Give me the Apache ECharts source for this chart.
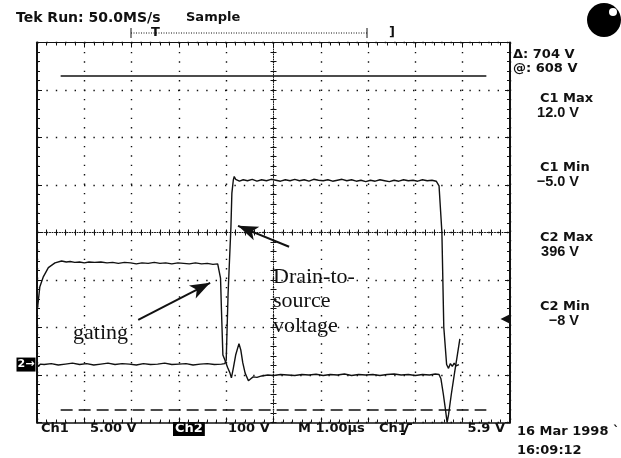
<!DOCTYPE html>
<html>
<head>
<meta charset="utf-8">
<script src="https://cdn.jsdelivr.net/npm/echarts@6/dist/echarts.min.js"></script>
<style>
  html, body { margin: 0; padding: 0; background: #fff; }
  #scope { width: 621px; height: 458px; }
</style>
</head>
<body>
<div id="scope"></div>
<script>
// Screen: 10 x 8 divisions, time base 1 µs/div
const TIME_DIVS = 10;
const VERT_DIVS = 8;
const CH1_VOLTS_PER_DIV = 5;     // gate drive
const CH1_GROUND_DIV = -3;
const CH2_VOLTS_PER_DIV = 100;   // drain-to-source
const CH2_GROUND_DIV = -2.78;
const TRIGGER_LEVEL = 5.9;       // Ch1 rising edge
const cursorAt = 608;            // H-bar cursors on Ch2
const cursorDelta = 704;
const cursorSpan = [0.5, 9.5];

// Ch1 gate voltage [µs, V]
const gatingTrace = [
  [0.01, 7.0], [0.03, 7.9], [0.06, 9.3], [0.13, 10.3], [0.24, 11.3], [0.38, 11.8], [0.52, 12.0],
  [0.62, 11.9], [0.70, 11.95], [0.80, 11.85], [0.90, 11.9], [1.00, 11.8], [1.10, 11.9], [1.22, 11.85],
  [1.35, 11.9], [1.48, 11.8], [1.60, 11.85], [1.72, 11.75], [1.85, 11.85], [1.98, 11.8], [2.10, 11.7],
  [2.22, 11.8], [2.35, 11.75], [2.48, 11.85], [2.60, 11.75], [2.72, 11.8], [2.85, 11.7], [2.98, 11.8],
  [3.10, 11.75], [3.22, 11.7], [3.35, 11.8], [3.48, 11.7], [3.60, 11.75], [3.72, 11.65], [3.82, 11.7],
  [3.86, 11.6], [3.88, 10.2], [3.90, 6.8], [3.93, 2.1], [3.97, 1.6], [4.03, 0.8], [4.08, 0.2],
  [4.11, -0.3], [4.15, 0.7], [4.20, 2.1], [4.27, 3.3], [4.31, 2.6], [4.35, 1.3], [4.40, 0.2],
  [4.47, -0.6], [4.52, -0.4], [4.57, -0.2], [4.65, -0.25], [4.75, -0.1], [4.88, 0.0], [5.00, -0.05],
  [5.15, 0.05], [5.30, 0.0], [5.45, -0.05], [5.60, 0.05], [5.75, 0.0], [5.90, 0.08], [6.05, -0.05],
  [6.20, 0.05], [6.35, 0.0], [6.50, 0.1], [6.65, -0.05], [6.80, 0.05], [6.95, 0.0], [7.10, 0.05],
  [7.25, -0.05], [7.40, 0.05], [7.55, 0.1], [7.70, 0.0], [7.85, 0.05], [8.00, -0.05], [8.15, 0.05],
  [8.30, 0.0], [8.42, 0.1], [8.50, 0.05], [8.54, -0.4], [8.59, -2.0], [8.64, -3.8], [8.67, -5.0],
  [8.70, -4.2], [8.76, -2.0], [8.83, 0.3], [8.89, 2.2], [8.94, 3.8]
];

// Ch2 drain-to-source voltage [µs, V]
const drainTrace = [
  [0.00, 2], [0.03, -4], [0.07, 1], [0.15, 0], [0.30, 2], [0.45, -1], [0.60, 1], [0.75, 3],
  [0.90, 0], [1.05, 2], [1.20, -1], [1.35, 1], [1.50, 3], [1.65, 0], [1.80, 2], [1.95, 1],
  [2.10, -1], [2.25, 2], [2.40, 0], [2.55, 1], [2.70, 3], [2.85, 0], [3.00, 1], [3.15, 2],
  [3.30, -1], [3.45, 1], [3.60, 2], [3.75, 0], [3.90, 1], [3.97, 2],
  [4.00, 9], [4.04, 150], [4.10, 290], [4.12, 361], [4.15, 388], [4.17, 396], [4.20, 390],
  [4.28, 386], [4.36, 389], [4.45, 387], [4.55, 390], [4.65, 386], [4.75, 389], [4.85, 387],
  [4.95, 390], [5.05, 388], [5.15, 386], [5.25, 389], [5.35, 387], [5.45, 390], [5.55, 387],
  [5.65, 389], [5.75, 386], [5.85, 390], [5.95, 388], [6.05, 387], [6.15, 389], [6.25, 386],
  [6.35, 388], [6.45, 390], [6.55, 387], [6.65, 389], [6.75, 386], [6.85, 388], [6.95, 385],
  [7.05, 388], [7.15, 386], [7.25, 389], [7.35, 387], [7.45, 385], [7.55, 388], [7.65, 386],
  [7.75, 389], [7.85, 387], [7.95, 388], [8.05, 386], [8.15, 389], [8.25, 387], [8.35, 388],
  [8.44, 386], [8.48, 382], [8.50, 376], [8.56, 279], [8.60, 79], [8.66, 0], [8.70, -8],
  [8.74, 2], [8.78, -4], [8.82, 3], [8.86, -3], [8.90, 1], [8.92, 0]
];

// Annotation arrows [µs, V] tail -> head
const gatingArrow = [[2.14, 5.8], [3.66, 9.7]];
const drainArrow = [[5.33, 248], [4.25, 292]];

const measureNames = ['C1 Max', 'C1 Min', 'C2 Max', 'C2 Min'];
const measureValues = ['12.0 V', '\u22125.0 V', '396 V', '\u22128 V'];
const headerText = ['Tek', 'Run: 50.0MS/s', 'Sample'];
const channelSettings = ['Ch1', '5.00 V', 'Ch2', '100 V', 'M 1.00\u00b5s', 'Ch1', '5.9 V'];
const timestamp = ['16 Mar 1998 `', '16:09:12'];

const TEK = '"DejaVu Sans", sans-serif';
const TEK_NARROW = '"Liberation Sans", Arial, sans-serif';
const SERIF = '"Liberation Serif", "Times New Roman", serif';
const INK = '#111';

const chart = echarts.init(document.getElementById('scope'), null, { renderer: 'canvas' });

const dotGrid = { show: true, lineStyle: { color: INK, width: 1.4, type: [1.4, 8] } };
const frameTick = { show: true, inside: true, length: 5, lineStyle: { color: INK, width: 1 } };
const frameMinor = { show: true, splitNumber: 5, length: 3, lineStyle: { color: INK, width: 1 } };
const noLabel = { show: false };

function timeAxis(extra) {
  return Object.assign({
    type: 'value', min: 0, max: TIME_DIVS, interval: 1,
    axisLabel: noLabel, splitLine: { show: false }
  }, extra);
}
function divAxis(extra) {
  return Object.assign({
    type: 'value', min: -VERT_DIVS / 2, max: VERT_DIVS / 2, interval: 1,
    axisLabel: noLabel, splitLine: { show: false }
  }, extra);
}

const text = (x, y, str, opt) => ({
  type: 'text', x, y, silent: true,
  style: Object.assign({
    text: str, fill: INK, fontFamily: TEK, fontSize: 13, fontWeight: 'bold',
    align: 'left', textAlign: 'left', verticalAlign: 'middle', textVerticalAlign: 'middle'
  }, opt || {})
});

const graphics = [
  // header
  text(16, 18, headerText[0] + ' ' + headerText[1], { fontSize: 14 }),
  text(186, 18, headerText[2]),
  // record view bar
  { type: 'line', silent: true, shape: { x1: 131, y1: 33, x2: 367, y2: 33 }, style: { stroke: INK, lineWidth: 1, lineDash: [1, 1.5] } },
  { type: 'line', silent: true, shape: { x1: 131, y1: 28, x2: 131, y2: 38 }, style: { stroke: INK, lineWidth: 1 } },
  { type: 'line', silent: true, shape: { x1: 367, y1: 28, x2: 367, y2: 38 }, style: { stroke: INK, lineWidth: 1 } },
  text(151, 33, 'T', { fontSize: 13 }),
  text(389, 33, ']', { fontSize: 13 }),
  // acquisition indicator
  { type: 'circle', silent: true, shape: { cx: 604, cy: 20, r: 17 }, style: { fill: '#000' } },
  { type: 'circle', silent: true, shape: { cx: 613, cy: 12, r: 4 }, style: { fill: '#fff' } },
  // cursor readout
  text(513, 55, '\u0394: ' + cursorDelta + ' V'),
  text(513, 69, '@: ' + cursorAt + ' V'),
  // bottom status line
  text(41, 429, channelSettings[0]),
  text(90, 429, channelSettings[1]),
  text(173, 429, channelSettings[2], { fill: '#fff', backgroundColor: '#000', padding: [1, 2, 0, 2] }),
  text(228, 429, channelSettings[3]),
  text(298, 429, channelSettings[4]),
  text(379, 429, channelSettings[5]),
  { type: 'polyline', silent: true, shape: { points: [[401, 434], [404, 434], [408, 424], [412, 424]] }, style: { stroke: INK, lineWidth: 2, fill: null } },
  text(505, 429, channelSettings[6], { align: 'right', textAlign: 'right' }),
  text(517, 432, timestamp[0]),
  text(517, 451, timestamp[1]),
  // annotations
  text(73, 333, 'gating', { fontFamily: SERIF, fontWeight: 'normal', fontSize: 22 }),
  text(273, 277, 'Drain-to-', { fontFamily: SERIF, fontWeight: 'normal', fontSize: 22 }),
  text(273, 301, 'source', { fontFamily: SERIF, fontWeight: 'normal', fontSize: 22 }),
  text(273, 326, 'voltage', { fontFamily: SERIF, fontWeight: 'normal', fontSize: 22 })
];

// measurement block
const measureY = [99, 168, 238, 307];
measureNames.forEach((name, i) => {
  graphics.push(text(540, measureY[i], name));
  graphics.push(text(579, measureY[i] + 14, measureValues[i],
    { fontFamily: TEK_NARROW, fontSize: 14.5, align: 'right', textAlign: 'right' }));
});

const arrowLine = (pts) => [
  { coord: pts[0], symbol: 'none', lineStyle: { color: INK, width: 2, type: 'solid' } },
  { coord: pts[1], symbol: 'arrow', symbolSize: [11, 20], lineStyle: { color: INK, width: 2, type: 'solid' } }
];

const option = {
  animation: false,
  backgroundColor: '#fff',
  grid: { left: 37, right: 111, top: 42.5, bottom: 35.5, containLabel: false },
  xAxis: [
    // frame bottom (also vertical dotted graticule)
    timeAxis({ position: 'bottom', axisLine: { show: true, onZero: false, lineStyle: { color: INK, width: 1.5 } },
      axisTick: frameTick, minorTick: frameMinor, splitLine: dotGrid }),
    // frame top
    timeAxis({ position: 'top', axisLine: { show: true, onZero: false, lineStyle: { color: INK, width: 1 } },
      axisTick: frameTick, minorTick: frameMinor }),
    // centred division scale used to anchor the vertical centre line
    { type: 'value', min: -TIME_DIVS / 2, max: TIME_DIVS / 2, show: false },
    // horizontal centre line, ticks up
    timeAxis({ position: 'bottom', axisLine: { show: true, onZero: true, onZeroAxisIndex: 0, lineStyle: { color: INK, width: 1, type: [1, 1.5] } },
      axisTick: { show: true, inside: true, length: 3, lineStyle: { color: INK } }, minorTick: frameMinor }),
    // horizontal centre line, ticks down
    timeAxis({ position: 'bottom', axisLine: { show: false, onZero: true, onZeroAxisIndex: 0 },
      axisTick: { show: true, inside: false, length: 3, lineStyle: { color: INK } }, minorTick: frameMinor })
  ],
  yAxis: [
    // frame left (also horizontal dotted graticule)
    divAxis({ position: 'left', axisLine: { show: true, onZero: false, lineStyle: { color: INK, width: 2 } },
      axisTick: frameTick, minorTick: frameMinor, splitLine: dotGrid }),
    // frame right
    divAxis({ position: 'right', axisLine: { show: true, onZero: false, lineStyle: { color: INK, width: 2 } },
      axisTick: frameTick, minorTick: frameMinor }),
    // vertical centre line, ticks right
    divAxis({ position: 'left', axisLine: { show: true, onZero: true, onZeroAxisIndex: 2, lineStyle: { color: INK, width: 1, type: [1, 1.5] } },
      axisTick: { show: true, inside: true, length: 3, lineStyle: { color: INK } }, minorTick: frameMinor }),
    // vertical centre line, ticks left
    divAxis({ position: 'left', axisLine: { show: false, onZero: true, onZeroAxisIndex: 2 },
      axisTick: { show: true, inside: false, length: 3, lineStyle: { color: INK } }, minorTick: frameMinor }),
    // Ch1 volts
    { type: 'value', show: false, axisLine: { onZero: false },
      min: (-VERT_DIVS / 2 - CH1_GROUND_DIV) * CH1_VOLTS_PER_DIV, max: (VERT_DIVS / 2 - CH1_GROUND_DIV) * CH1_VOLTS_PER_DIV },
    // Ch2 volts
    { type: 'value', show: false, axisLine: { onZero: false },
      min: (-VERT_DIVS / 2 - CH2_GROUND_DIV) * CH2_VOLTS_PER_DIV, max: (VERT_DIVS / 2 - CH2_GROUND_DIV) * CH2_VOLTS_PER_DIV }
  ],
  graphic: graphics,
  series: [
    {
      name: 'gating', type: 'line', xAxisIndex: 0, yAxisIndex: 4,
      data: gatingTrace, showSymbol: false, symbol: 'none', silent: true,
      lineStyle: { color: INK, width: 1.4 },
      markLine: { silent: true, animation: false, label: { show: false }, data: [arrowLine(gatingArrow)] },
      markPoint: {
        silent: true, animation: false,
        data: [{ coord: [TIME_DIVS, TRIGGER_LEVEL], symbol: 'triangle', symbolRotate: 90, symbolSize: [9, 9],
          symbolOffset: [-5, 0], itemStyle: { color: INK }, label: { show: false } }]
      }
    },
    {
      name: 'drain-to-source', type: 'line', xAxisIndex: 0, yAxisIndex: 5,
      data: drainTrace, showSymbol: false, symbol: 'none', silent: true,
      lineStyle: { color: INK, width: 1.4 },
      markLine: {
        silent: true, animation: false, label: { show: false }, symbol: 'none',
        data: [
          arrowLine(drainArrow),
          [{ coord: [cursorSpan[0], cursorAt], symbol: 'none', lineStyle: { color: INK, width: 1.5, type: 'solid' } },
           { coord: [cursorSpan[1], cursorAt], symbol: 'none', lineStyle: { color: INK, width: 1.5, type: 'solid' } }],
          [{ coord: [cursorSpan[0], cursorAt - cursorDelta], symbol: 'none', lineStyle: { color: INK, width: 1.5, type: [12, 6] } },
           { coord: [cursorSpan[1], cursorAt - cursorDelta], symbol: 'none', lineStyle: { color: INK, width: 1.5, type: [12, 6] } }]
        ]
      },
      markPoint: {
        silent: true, animation: false,
        data: [{ coord: [0, 0], symbol: 'rect', symbolSize: [19, 14], symbolOffset: [-11, 0],
          itemStyle: { color: '#000' },
          label: { show: true, position: 'inside', formatter: '2\u2192', color: '#fff',
            fontFamily: TEK, fontWeight: 'bold', fontSize: 11 } }]
      }
    }
  ]
};

chart.setOption(option);
</script>
</body>
</html>
